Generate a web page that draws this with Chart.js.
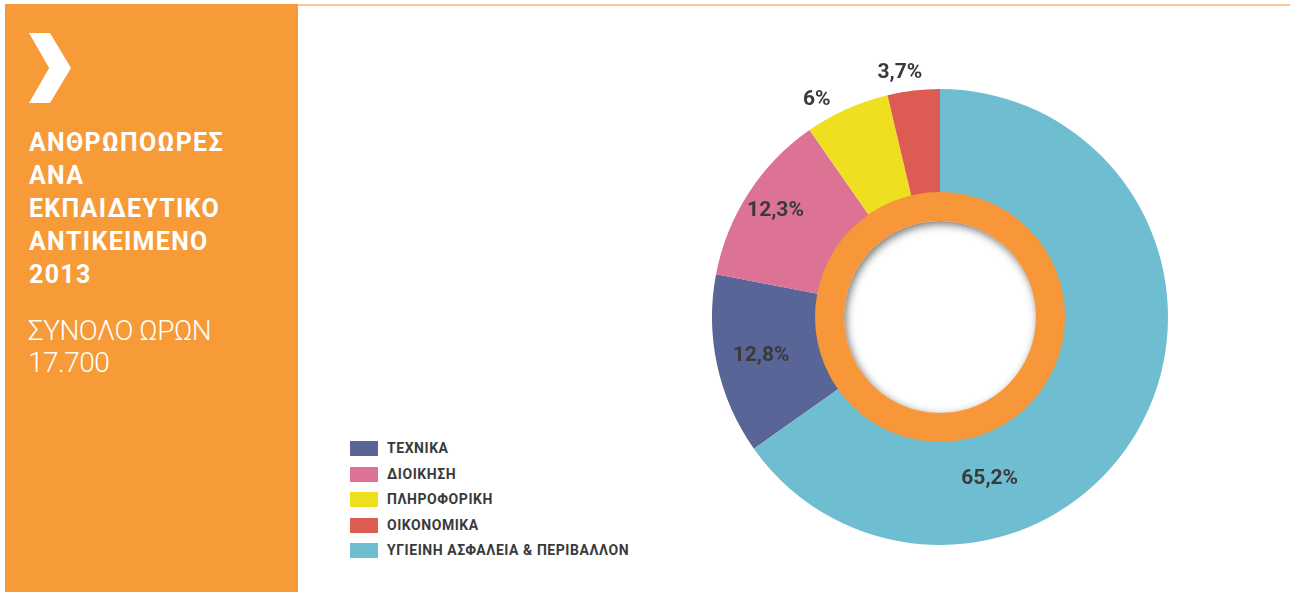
<!DOCTYPE html>
<html>
<head>
<meta charset="utf-8">
<title>Ανθρωποώρες</title>
<script src="https://cdn.jsdelivr.net/npm/chart.js@4.4.0/dist/chart.umd.min.js"></script>
<style>
    body { margin: 0; width: 1290px; height: 592px; background: #fff; position: relative; overflow: hidden; font-family: Roboto, "Liberation Sans", sans-serif; }
    #topline { position: absolute; left: 298px; top: 4px; width: 992px; height: 2px; background: #f9c895; }
    #panel { position: absolute; left: 5px; top: 4px; width: 293px; height: 588px; background: #f79a38; color: #fff; }
    #chevron { position: absolute; left: 24px; top: 29px; width: 42px; height: 70px; background: #fff;
        clip-path: polygon(0 0, 50% 0, 100% 50%, 50% 100%, 0 100%, 48% 50%); }
    #title { position: absolute; left: 24px; top: 122px; font-size: 25px; font-weight: 700; line-height: 33px; letter-spacing: 1.3px; }
    #total { position: absolute; left: 23px; top: 311px; font-size: 28px; font-weight: 300; line-height: 32px; letter-spacing: -0.5px; }
    #legend { position: absolute; left: 350px; top: 441px; }
    .row { height: 25.5px; display: flex; align-items: flex-start; }
    .sw { width: 28px; height: 15px; margin-right: 9px; }
    .lbl { font-size: 14px; font-weight: 700; color: #3a3a3a; line-height: 15px; letter-spacing: 0.55px; }
    #wrap { position: absolute; left: 660px; top: 47px; width: 560px; height: 540px; }
</style>
</head>
<body>
<div id="topline"></div>
<div id="panel">
    <div id="chevron"></div>
    <div id="title">ΑΝΘΡΩΠΟΩΡΕΣ<br>ΑΝΑ<br>ΕΚΠΑΙΔΕΥΤΙΚΟ<br>ΑΝΤΙΚΕΙΜΕΝΟ<br>2013</div>
    <div id="total">ΣΥΝΟΛΟ ΩΡΩΝ<br>17.700</div>
</div>
<div id="legend"></div>
<div id="wrap"><canvas id="canvas"></canvas></div>
<script>
    // categories in legend order (also clockwise order of the slices)
    const categories = ['ΤΕΧΝΙΚΑ', 'ΔΙΟΙΚΗΣΗ', 'ΠΛΗΡΟΦΟΡΙΚΗ', 'ΟΙΚΟΝΟΜΙΚΑ', 'ΥΓΙΕΙΝΗ ΑΣΦΑΛΕΙΑ & ΠΕΡΙΒΑΛΛΟΝ'];
    const shares = [12.8, 12.3, 6, 3.7, 65.2];
    const shareLabels = ['12,8%', '12,3%', '6%', '3,7%', '65,2%'];
    const colors = ['#586596', '#dc7294', '#efdf21', '#dc5c53', '#6fbdd0'];

    // legend
    const legend = document.getElementById('legend');
    categories.forEach(function (c, i) {
        const row = document.createElement('div');
        row.className = 'row';
        row.innerHTML = '<div class="sw" style="background:' + colors[i] + '"></div><div class="lbl">' + c + '</div>';
        legend.appendChild(row);
    });

    // health slice starts at 12 o'clock, so start the first one after it
    const total = shares.reduce((a, b) => a + b, 0);
    const startAngle = shares[4] / total * 360;

    // where each label sits: fraction along the slice, and radius (px)
    const labelPlace = [
        { f: 0.5, r: 183 },
        { f: 0.5, r: 196 },
        { f: 0.25, r: 250 },
        { f: 0.3, r: 248 },
        { f: 0.694, r: 169 }
    ];

    const ringPlugin = {
        id: 'ring',
        afterDatasetsDraw(chart) {
            const arc = chart.getDatasetMeta(0).data[0];
            const cx = arc.x, cy = arc.y;
            const ctx = chart.ctx;
            const rIn = 96, rOut = 125;

            // white hole with inner shadow
            ctx.save();
            ctx.beginPath();
            ctx.arc(cx, cy, rIn, 0, Math.PI * 2);
            ctx.fillStyle = '#fff';
            ctx.fill();
            ctx.clip();
            ctx.shadowColor = 'rgba(0,0,0,0.55)';
            ctx.shadowBlur = 9;
            ctx.shadowOffsetX = 2;
            ctx.shadowOffsetY = 3;
            ctx.beginPath();
            ctx.arc(cx, cy, rIn + 20, 0, Math.PI * 2);
            ctx.lineWidth = 40;
            ctx.strokeStyle = '#f7973a';
            ctx.stroke();
            ctx.restore();

            // orange ring
            ctx.save();
            ctx.beginPath();
            ctx.arc(cx, cy, rOut, 0, Math.PI * 2);
            ctx.arc(cx, cy, rIn, 0, Math.PI * 2, true);
            ctx.fillStyle = '#f7973a';
            ctx.fill();
            ctx.restore();

            // percentage labels
            ctx.save();
            ctx.font = 'bold 21px Roboto';
            ctx.fillStyle = '#3a3a3a';
            ctx.textAlign = 'center';
            ctx.textBaseline = 'middle';
            chart.getDatasetMeta(0).data.forEach(function (a, i) {
                const p = labelPlace[i];
                const ang = a.startAngle + (a.endAngle - a.startAngle) * p.f;
                ctx.fillText(shareLabels[i], cx + Math.cos(ang) * p.r, cy + Math.sin(ang) * p.r);
            });
            ctx.restore();
        }
    };

    new Chart(document.getElementById('canvas'), {
        type: 'doughnut',
        data: {
            labels: categories,
            datasets: [{
                data: shares,
                backgroundColor: colors,
                borderWidth: 0
            }]
        },
        options: {
            responsive: true,
            maintainAspectRatio: false,
            animation: false,
            rotation: startAngle,
            cutout: 118,
            layout: { padding: { left: 52, right: 52, top: 42, bottom: 42 } },
            plugins: {
                legend: { display: false },
                tooltip: { enabled: false }
            }
        },
        plugins: [ringPlugin]
    });
</script>
</body>
</html>
